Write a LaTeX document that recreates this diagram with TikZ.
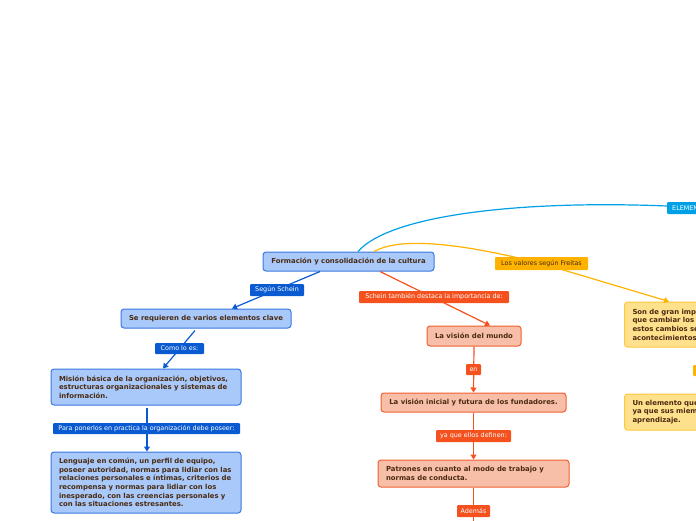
\documentclass[tikz,border=0pt]{standalone}
\usepackage{fontspec}
\setmainfont{DejaVu Sans}
\usetikzlibrary{arrows.meta,calc}
\definecolor{bfill}{HTML}{A9C9FA}
\definecolor{bdraw}{HTML}{3A78E0}
\definecolor{bdark}{HTML}{0A5AD2}
\definecolor{ofill}{HTML}{F8BFA8}
\definecolor{odraw}{HTML}{F06030}
\definecolor{odark}{HTML}{F4511E}
\definecolor{yfill}{HTML}{FFE08C}
\definecolor{ydraw}{HTML}{FFC83C}
\definecolor{ydark}{HTML}{FFB300}
\definecolor{cyanc}{HTML}{00A0E6}
\definecolor{txt}{HTML}{4A2A10}
\tikzset{
  mbox/.style={rectangle, rounded corners=3pt, line width=1pt, text=txt,
    font=\bfseries\fontsize{6.9}{8.7}\selectfont, inner xsep=8pt, inner ysep=0pt, align=left},
  bluebox/.style={mbox, draw=bdraw, fill=bfill},
  orabox/.style={mbox, draw=odraw, fill=ofill},
  yelbox/.style={mbox, draw=ydraw, fill=yfill},
  lab/.style={rectangle, rounded corners=1pt, text=white, inner sep=0pt,
    font=\fontsize{6.4}{7}\selectfont},
  tip/.style={-{Triangle[length=5pt,width=6pt]}},
  bl/.style={draw=bdark, line width=1.2pt, tip},
  ol/.style={draw=odark, line width=1.2pt, tip},
  yl/.style={draw=ydark, line width=1.2pt},
  cl/.style={draw=cyanc, line width=1.2pt},
}
\begin{document}
\begin{tikzpicture}[x=1pt,y=-1pt]
\useasboundingbox (0,0) rectangle (696,520);
\clip (0,0) rectangle (696,520);

% nodes
\node[bluebox, minimum width=171pt, minimum height=19pt, align=center] (root) at (348.5,261.5) {Formación y consolidación de la cultura};
\node[bluebox, minimum width=170pt, minimum height=19pt, align=center] (req) at (206,318.5) {Se requieren de varios elementos clave};
\node[bluebox, text width=174pt, minimum height=36pt] (mis) at (146,387) {Misión básica de la organización, objetivos,\\estructuras organizacionales y sistemas de\\información.};
\node[bluebox, text width=174pt, minimum height=61pt] (len) at (146,482.5) {Lenguaje en común, un perfil de equipo,\\poseer autoridad, normas para lidiar con las\\relaciones personales e íntimas, criterios de\\recompensa y normas para lidiar con los\\inesperado, con las creencias personales y\\con las situaciones estresantes.};

\node[orabox, minimum width=94pt, minimum height=20pt, align=center] (vm) at (474,336) {La visión del mundo};
\node[orabox, minimum width=185pt, minimum height=19pt, align=center] (vi) at (473.5,402.5) {La visión inicial y futura de los fundadores.};
\node[orabox, text width=175pt, minimum height=27pt] (pat) at (473.5,473.5) {Patrones en cuanto al modo de trabajo y\\normas de conducta.};
\coordinate (bot) at (473.5,522);

\node[yelbox, anchor=west, text width=184pt, minimum height=45pt] (son) at (624,324.5) {Son de gran imp\\que cambiar los\\estos cambios se\\acontecimientos};
\node[yelbox, anchor=west, text width=184pt, minimum height=36pt] (un) at (624,412) {Un elemento que\\ya que sus miem\\aprendizaje.};
\node[lab, fill=ydark, anchor=west, minimum width=60pt, minimum height=11pt] (ysm) at (693,370.5) {};

% connectors
\draw[cl] ($(root.north)+(9.5,0)$) .. controls (390,215) and (520,200) .. (667,206);
\draw[yl, tip] ($(root.north)+(25.5,0)$) .. controls (395,240) and (440,238) .. (541.5,263.5) -- ($(son.north west)+(45,0)$);

\draw[bl] ($(root.south)+(-28.5,0)$) -- ($(req.north)+(26,0)$);
\draw[bl] ($(req.south)+(-11,2)$) -- ($(mis.north)+(17,0)$);
\draw[bl] ($(mis.south)+(1,2)$) -- (len.north -| 147,0);
\draw[ol] ($(root.south)+(31.5,0)$) -- ($(vm.north)+(16,0)$);
\draw[ol] (vm.south) -- (vi.north);
\draw[ol] (vi.south) -- (pat.north);
\draw[draw=odark, line width=1.2pt] (pat.south) -- (bot);

% labels
\node[lab, fill=bdark, minimum width=54pt, minimum height=12pt] (l1) at (277,290) {Según Schein};
\node[lab, fill=bdark, minimum width=49pt, minimum height=11pt] (l2) at (179.5,348.5) {Como lo es:};
\node[lab, fill=bdark, minimum width=187pt, minimum height=11pt] (l3) at (146.5,428.5) {Para ponerlos en practica la organización debe poseer:};
\node[lab, fill=odark, minimum width=150pt, minimum height=12pt] (l4) at (434,297) {Schein también destaca la importancia de:};
\node[lab, fill=odark, minimum width=15pt, minimum height=11pt] (l5) at (473.5,369.5) {en};
\node[lab, fill=odark, minimum width=75pt, minimum height=12pt] (l6) at (473.5,436) {ya que ellos definen:};
\node[lab, fill=odark, minimum width=33pt, minimum height=12pt] (l7) at (473.5,511) {Además};
\node[lab, fill=ydark, text=txt, minimum width=93pt, minimum height=13pt] (l8) at (541.5,263.5) {Los valores según Freitas};
\node[lab, fill=cyanc, anchor=west, minimum width=60pt, minimum height=12pt, text width=56pt, align=left] (elem) at (667,208) {\hspace*{3pt}ELEMEN};
\end{tikzpicture}
\end{document}
